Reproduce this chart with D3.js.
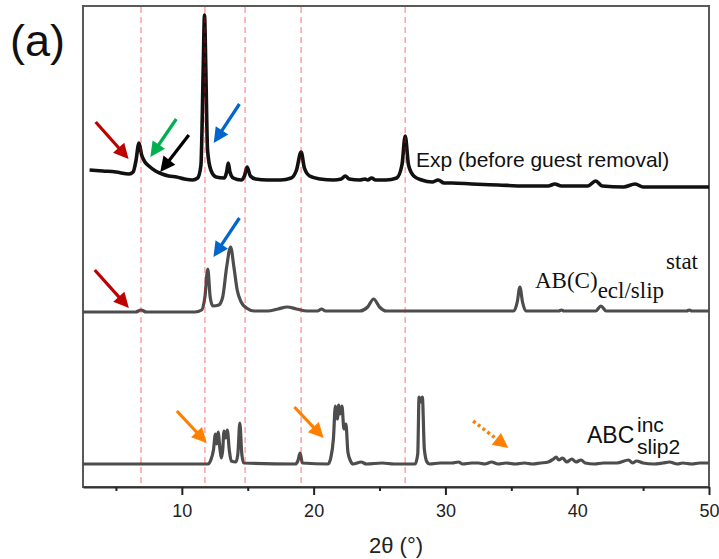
<!DOCTYPE html>
<html>
<head>
<meta charset="utf-8">
<script src="https://cdn.jsdelivr.net/npm/d3@7"></script>
<style>
  body { margin: 0; background: #fff; }
  svg text { font-family: "Liberation Sans", Arial, sans-serif; }
</style>
</head>
<body>
<div id="chart"></div>
<script>
// x ticks
var majorTicks = [10, 20, 30, 40, 50];
var minorTicks = [5, 15, 25, 35, 45];

// reference peak positions (dashed lines), 2θ
var guideLines = [6.9, 11.75, 14.8, 19.05, 26.95];

// Exp (before guest removal): [2θ, intensity a.u.]
var expData = [
    [3.0, 20], [4.0, 19], [5.0, 18], [6.0, 16], [6.3, 18], [6.5, 28], [6.75, 47], [6.95, 35],
    [7.2, 28], [7.5, 24], [8.0, 19], [8.5, 16], [9.0, 14], [9.6, 13], [10.2, 11], [10.8, 10],
    [11.2, 12], [11.45, 25], [11.62, 120], [11.72, 175], [11.82, 120], [11.95, 40], [12.2, 20],
    [12.6, 13], [13.2, 12], [13.4, 18], [13.52, 27], [13.65, 18], [13.9, 12], [14.5, 10],
    [14.75, 14], [14.95, 23], [15.2, 14], [15.6, 11], [16.5, 10], [17.5, 10], [18.3, 12],
    [18.7, 20], [19.05, 38], [19.3, 22], [19.7, 14], [20.5, 11], [21.5, 10], [22.1, 11],
    [22.4, 14], [22.7, 11], [23.5, 10], [23.9, 11], [24.1, 10], [24.4, 12], [24.7, 10],
    [25.5, 10], [26.3, 12], [26.7, 25], [26.95, 54], [27.2, 25], [27.6, 14], [28.2, 10],
    [29.0, 8], [29.45, 10], [29.9, 7], [30.5, 7], [32, 6], [34, 5], [36, 4], [37.8, 4],
    [38.3, 6], [38.8, 4], [40.8, 4], [41.4, 9], [41.9, 4], [43.5, 3], [44.4, 6], [45, 3],
    [47, 3], [50, 3]
];

// AB(C) ecl/slip stat
var abData = [
    [2.5, 0], [6.5, 0], [6.9, 2], [7.3, 0], [11.0, 0], [11.5, 2], [11.75, 15], [11.97, 43],
    [12.15, 15], [12.35, 6], [12.8, 7], [13.1, 15], [13.4, 45], [13.7, 65], [13.95, 45],
    [14.2, 22], [14.5, 10], [14.9, 4], [15.5, 1], [16.5, 1], [17.3, 3], [18.0, 5], [18.7, 3],
    [19.5, 1], [20.3, 1], [20.6, 3], [20.9, 1], [23.5, 1], [24.1, 5], [24.55, 13], [25.0, 5],
    [25.5, 1], [35.2, 1], [35.45, 10], [35.65, 25], [35.85, 10], [36.1, 1], [38.6, 1],
    [38.8, 2], [39.0, 1], [41.4, 1], [41.8, 6], [42.2, 1], [48.3, 1], [48.5, 2], [48.7, 1],
    [50, 1]
];

// ABC inc slip2
var abcData = [
    [2.5, 0], [12.0, 0], [12.2, 4], [12.4, 14], [12.55, 30], [12.65, 20], [12.75, 32],
    [12.9, 14], [13.0, 6], [13.1, 14], [13.2, 33], [13.32, 26], [13.45, 34], [13.6, 14],
    [13.75, 3], [14.1, 2], [14.25, 10], [14.4, 41], [14.55, 10], [14.7, 1], [18.6, 0],
    [18.8, 3], [18.97, 11], [19.15, 1], [21.1, 0], [21.3, 6], [21.5, 25], [21.65, 58],
    [21.8, 45], [21.9, 59], [22.0, 50], [22.15, 58], [22.3, 35], [22.45, 40], [22.6, 12],
    [22.8, 3], [23.0, 0], [23.6, 2], [24.0, 0], [25.2, 1], [26.1, 0], [27.7, 0], [27.9, 10],
    [28.0, 67], [28.12, 62], [28.25, 67], [28.4, 15], [28.6, 2], [28.8, 0], [29.6, 1],
    [30.5, 1], [31, 2], [31.3, 0], [32.0, 1], [32.5, 1], [33.0, 0], [33.5, 2], [34, 0],
    [34.6, 1], [35.3, 0], [36, 1], [36.6, 0], [37.2, 1], [37.8, 2], [38.2, 5], [38.4, 7],
    [38.6, 4], [38.9, 6], [39.2, 2], [39.6, 5], [39.9, 2], [40.3, 4], [40.6, 1], [41.3, 0],
    [42.0, 1], [43, 1], [43.9, 4], [44.2, 1], [44.5, 3], [45, 1], [45.8, 0], [46.5, 1],
    [47, 2], [47.6, 0], [48, 1], [48.7, 0], [49.3, 1], [50, 1]
];

// arrows: [x1, y1, x2, y2] (tail -> tip) in data units, colour, dotted
var arrows = [
    { p: [3.46, 365, 5.96, 328], color: "#c00000" },
    { p: [9.58, 368, 7.61, 330], color: "#00b050" },
    { p: [10.53, 352, 8.36, 315], color: "#000000" },
    { p: [14.37, 383, 12.42, 344], color: "#0066cc" },
    { p: [3.39, 217, 5.98, 179], color: "#c00000" },
    { p: [14.37, 269, 12.40, 230], color: "#0066cc" },
    { p: [9.62, 76, 11.89, 44], color: "#ff8000" },
    { p: [18.54, 80, 20.76, 49], color: "#ff8000" },
    { p: [32.1, 66, 34.77, 39], color: "#ff8000", dotted: true }
];

var width = 719, height = 559;
var plotL = 83, plotR = 709, plotT = 6, plotB = 487;

var svg = d3.select("#chart").append("svg")
    .attr("width", width)
    .attr("height", height);

var x = d3.scaleLinear().domain([2.5, 50]).range([plotL, plotR]);
var y = d3.scaleLinear().domain([0, plotB - plotT]).range([plotB, plotT]);

// vertical offsets of the stacked patterns
var traces = [
    { data: expData, offset: 297, color: "#111", width: 3.6 },
    { data: abData, offset: 175, color: "#4d4d4d", width: 3.2 },
    { data: abcData, offset: 23, color: "#4d4d4d", width: 3.2 }
];

//frame
svg.append("rect")
    .attr("x", plotL).attr("y", plotT)
    .attr("width", plotR - plotL).attr("height", plotB - plotT)
    .attr("fill", "none")
    .attr("stroke", "#595959")
    .attr("stroke-width", 2);

//patterns
traces.forEach(function (t) {
    var line = d3.line()
        .x(function (d) { return x(d[0]); })
        .y(function (d) { return y(d[1] + t.offset); })
        .curve(d3.curveMonotoneX);
    svg.append("path")
        .datum(t.data)
        .attr("d", line)
        .attr("fill", "none")
        .attr("stroke", t.color)
        .attr("stroke-width", t.width)
        .attr("stroke-linejoin", "round");
});

//dashed guides
svg.append("g").selectAll("line")
    .data(guideLines)
    .enter().append("line")
    .attr("x1", function (d) { return x(d); })
    .attr("x2", function (d) { return x(d); })
    .attr("y1", plotT + 1)
    .attr("y2", plotB - 1)
    .attr("stroke", "#ff0000")
    .attr("stroke-opacity", 0.35)
    .attr("stroke-width", 1.6)
    .attr("stroke-dasharray", "6,4");

//arrows
arrows.forEach(function (a) {
    var x1 = x(a.p[0]), y1 = y(a.p[1]), x2 = x(a.p[2]), y2 = y(a.p[3]);
    var dx = x2 - x1, dy = y2 - y1, len = Math.sqrt(dx * dx + dy * dy);
    var ux = dx / len, uy = dy / len;
    var headL = 15, headW = 7.5;
    var bx = x2 - ux * headL, by = y2 - uy * headL;
    svg.append("line")
        .attr("x1", x1).attr("y1", y1)
        .attr("x2", bx + ux * 2).attr("y2", by + uy * 2)
        .attr("stroke", a.color)
        .attr("stroke-width", a.dotted ? 3.5 : 3.2)
        .attr("stroke-dasharray", a.dotted ? "3,3" : null);
    svg.append("path")
        .attr("d", "M" + x2 + "," + y2 +
            "L" + (bx - uy * headW) + "," + (by + ux * headW) +
            "L" + (bx + uy * headW) + "," + (by - ux * headW) + "Z")
        .attr("fill", a.color);
});

//x axis
var axis = svg.append("g")
    .attr("transform", "translate(0," + plotB + ")")
    .call(d3.axisBottom(x).tickValues(majorTicks).tickSize(8).tickSizeOuter(0).tickPadding(9));
axis.select(".domain").attr("stroke", "#333").attr("stroke-width", 2);
axis.selectAll(".tick line").attr("stroke", "#222").attr("stroke-width", 2);
axis.selectAll(".tick text")
    .attr("font-size", 18)
    .attr("fill", "#222");

var minor = svg.append("g")
    .attr("transform", "translate(0," + plotB + ")")
    .call(d3.axisBottom(x).tickValues(minorTicks).tickSize(4).tickFormat(""));
minor.select(".domain").remove();
minor.selectAll(".tick line").attr("stroke", "#222").attr("stroke-width", 2);

svg.append("text")
    .attr("x", 396).attr("y", 553)
    .attr("text-anchor", "middle")
    .attr("font-size", 22)
    .attr("fill", "#222")
    .text("2θ (°)");

//panel label
svg.append("text")
    .attr("x", 10).attr("y", 56)
    .attr("font-size", 45)
    .attr("fill", "#111")
    .text("(a)");

//trace labels
svg.append("text")
    .attr("x", 416).attr("y", 167)
    .attr("font-size", 21)
    .attr("fill", "#111")
    .text("Exp (before guest removal)");

var abLabel = svg.append("text")
    .attr("x", 535).attr("y", 288)
    .attr("font-size", 23)
    .attr("fill", "#111")
    .style("font-family", "'Liberation Serif', 'Times New Roman', serif");
abLabel.append("tspan").text("AB(C)");
abLabel.append("tspan").attr("dy", 10).text("ecl/slip");
abLabel.append("tspan").attr("dy", -29).attr("dx", 2).text("stat");

svg.append("text")
    .attr("x", 587).attr("y", 443)
    .attr("font-size", 23)
    .attr("fill", "#111")
    .text("ABC");
svg.append("text")
    .attr("x", 637).attr("y", 432)
    .attr("font-size", 21)
    .attr("fill", "#111")
    .text("inc");
svg.append("text")
    .attr("x", 637).attr("y", 454)
    .attr("font-size", 21)
    .attr("fill", "#111")
    .text("slip2");
</script>
</body>
</html>
